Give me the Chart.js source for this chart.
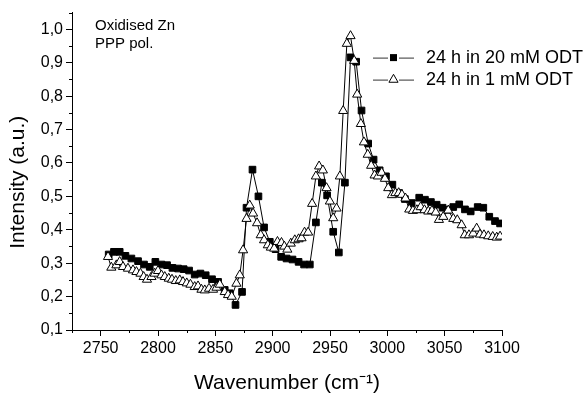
<!DOCTYPE html>
<html>
<head>
<meta charset="utf-8">
<script src="https://cdn.jsdelivr.net/npm/chart.js@4/dist/chart.umd.min.js"></script>
<style>
html,body{margin:0;padding:0;background:#fff;}
canvas{display:block;}
</style>
</head>
<body>
<canvas id="c" width="588" height="394"></canvas>
<script>
// ---- data ----
const wn20 = [2757.0,2761.6,2766.6,2771.6,2776.8,2782.6,2787.8,2792.8,2797.7,2803.0,
2807.9,2812.6,2817.5,2822.4,2827.1,2832.0,2837.0,2841.6,2847.1,2852.4,
2858.2,2862.6,2867.6,2873.3,2877.2,2882.4,2887.6,2892.5,2897.5,2902.5,
2907.4,2912.1,2917.3,2922.6,2927.4,2932.4,2937.7,2942.9,2947.5,2952.8,
2957.7,2963.0,2967.9,2972.8,2977.5,2983.3,2988.0,2993.3,2998.8,3004.4,
3010.1,3015.3,3021.2,3027.8,3032.8,3038.0,3043.0,3048.2,3053.1,3057.5,
3062.7,3067.7,3072.7,3078.8,3083.7,3088.9,3093.9,3098.3];
const int20 = [0.326,0.334,0.334,0.322,0.314,0.306,0.296,0.289,0.304,0.296,
0.294,0.286,0.284,0.282,0.278,0.266,0.269,0.264,0.252,0.244,
0.220,0.210,0.175,0.214,0.466,0.580,0.500,0.407,0.364,0.342,
0.319,0.314,0.311,0.304,0.296,0.296,0.422,0.541,0.503,0.394,
0.332,0.541,0.916,0.903,0.757,0.658,0.610,0.578,0.560,0.535,
0.510,0.492,0.480,0.496,0.490,0.483,0.475,0.466,0.460,0.468,
0.476,0.461,0.455,0.468,0.466,0.439,0.426,0.419];
const wn1 = [2756.4,2759.3,2763.7,2766.6,2769.5,2773.8,2778.2,2781.2,2784.7,2787.5,
2790.4,2794.3,2797.1,2800.0,2803.0,2805.9,2809.4,2812.2,2815.5,2819.0,
2821.8,2825.1,2828.3,2832.0,2834.9,2837.9,2840.8,2844.5,2848.0,2851.0,
2853.9,2858.2,2861.1,2864.3,2868.4,2871.3,2874.2,2877.2,2880.0,2882.9,
2886.4,2889.6,2892.5,2895.8,2898.4,2901.3,2904.2,2907.7,2910.2,2912.8,
2915.8,2919.3,2922.6,2925.2,2927.8,2930.9,2934.4,2937.7,2940.5,2943.8,
2947.0,2949.9,2952.8,2955.7,2958.6,2961.5,2964.7,2967.9,2971.1,2973.7,
2976.9,2979.6,2982.9,2985.9,2988.9,2991.8,2995.0,2997.9,3000.8,3004.0,
3007.0,3009.9,3012.7,3015.8,3019.1,3022.3,3025.8,3029.1,3032.4,3035.7,
3038.9,3042.2,3045.0,3048.8,3053.1,3057.5,3061.0,3064.8,3067.5,3071.2,
3074.9,3077.9,3080.8,3084.3,3088.0,3091.9,3095.4,3098.3];
const int1 = [0.319,0.287,0.294,0.304,0.289,0.284,0.279,0.274,0.269,0.259,
0.251,0.259,0.269,0.277,0.264,0.259,0.254,0.251,0.247,0.249,
0.244,0.240,0.236,0.229,0.231,0.221,0.219,0.224,0.221,0.227,
0.236,0.214,0.205,0.200,0.239,0.264,0.339,0.433,0.473,0.449,
0.420,0.384,0.369,0.354,0.347,0.344,0.364,0.361,0.350,0.341,
0.359,0.369,0.372,0.375,0.392,0.392,0.478,0.560,0.590,0.578,
0.525,0.485,0.435,0.464,0.560,0.756,0.957,0.980,0.906,0.805,
0.717,0.662,0.625,0.592,0.563,0.560,0.571,0.553,0.525,0.504,
0.510,0.510,0.505,0.494,0.461,0.457,0.459,0.468,0.459,0.455,
0.457,0.452,0.430,0.439,0.458,0.433,0.429,0.414,0.384,0.384,
0.389,0.404,0.386,0.384,0.381,0.379,0.377,0.380];
const seriesNames = ['24 h in 20 mM ODT', '24 h in 1 mM ODT'];
const xTicks = [2750,2800,2850,2900,2950,3000,3050,3100];
const xMinorTicks = [2725,2775,2825,2875,2925,2975,3025,3075];
const yTicks = [0.1,0.2,0.3,0.4,0.5,0.6,0.7,0.8,0.9,1.0];
const yMinorTicks = [0.15,0.25,0.35,0.45,0.55,0.65,0.75,0.85,0.95,1.05];
const noteLines = ['Oxidised Zn', 'PPP pol.'];
const xTitle = 'Wavenumber (cm\u207B\u00B9)';
const yTitle = 'Intensity (a.u.)';

const FONT = "'Liberation Sans', Arial, Helvetica, sans-serif";

function pts(xs, ys){ return xs.map((x,i)=>({x:x, y:ys[i]})); }

const extras = {
  id: 'extras',
  afterDraw(chart){
    const ctx = chart.ctx, a = chart.chartArea;
    const xs = chart.scales.x, ys = chart.scales.y;
    ctx.save();
    // minor ticks
    ctx.strokeStyle = '#000'; ctx.lineWidth = 1;
    ctx.beginPath();
    xMinorTicks.forEach(v=>{
      const p = Math.round(xs.getPixelForValue(v)) + 0.5;
      ctx.moveTo(p, a.bottom); ctx.lineTo(p, a.bottom + 3);
    });
    yMinorTicks.forEach(v=>{
      const p = Math.round(ys.getPixelForValue(v)) + 0.5;
      ctx.moveTo(a.left - 3, p); ctx.lineTo(a.left, p);
    });
    ctx.stroke();

    // y title
    ctx.fillStyle = '#000';
    ctx.font = '21px ' + FONT;
    ctx.textAlign = 'center'; ctx.textBaseline = 'middle';
    ctx.save();
    ctx.translate(18, (a.top + a.bottom)/2 + 11);
    ctx.rotate(-Math.PI/2);
    ctx.fillText(yTitle, 0, 0);
    ctx.restore();

    // note
    ctx.textAlign = 'left'; ctx.textBaseline = 'alphabetic';
    ctx.font = '15px ' + FONT;
    ctx.fillText(noteLines[0], a.left + 23, a.top + 17.5);
    ctx.fillText(noteLines[1], a.left + 23, a.top + 35.7);

    // legend
    const lx = a.right - 129;      // symbol left
    const rows = [a.top + 45, a.top + 67];
    ctx.font = '18px ' + FONT;
    rows.forEach((cy, i)=>{
      ctx.strokeStyle = '#333'; ctx.lineWidth = 1;
      ctx.beginPath();
      ctx.moveTo(lx, cy + 0.5); ctx.lineTo(lx + 15, cy + 0.5);
      ctx.moveTo(lx + 26, cy + 0.5); ctx.lineTo(lx + 41, cy + 0.5);
      ctx.stroke();
      const cx = lx + 20.5;
      if (i === 0){
        ctx.fillStyle = '#000';
        ctx.fillRect(cx - 3.5, cy - 3.5, 7, 7);
      } else {
        const r = 5.3;
        ctx.beginPath();
        ctx.moveTo(cx, cy - r);
        ctx.lineTo(cx + r*0.866, cy + r*0.5);
        ctx.lineTo(cx - r*0.866, cy + r*0.5);
        ctx.closePath();
        ctx.fillStyle = '#fff'; ctx.fill();
        ctx.strokeStyle = '#000'; ctx.stroke();
      }
      ctx.fillStyle = '#000';
      ctx.fillText(seriesNames[i], lx + 53, cy + 5.5);
    });
    ctx.restore();
  }
};

new Chart(document.getElementById('c'), {
  type: 'line',
  data: {
    datasets: [
      {
        label: seriesNames[0],
        data: pts(wn20, int20),
        order: 1,
        borderColor: '#000', borderWidth: 1, tension: 0, fill: false,
        pointStyle: 'rect', pointRadius: 4.7,
        pointBackgroundColor: '#000', pointBorderColor: '#000', pointBorderWidth: 1
      },
      {
        label: seriesNames[1],
        data: pts(wn1, int1),
        order: 0,
        borderColor: '#000', borderWidth: 1, tension: 0, fill: false,
        pointStyle: 'triangle', pointRadius: 5.3,
        pointBackgroundColor: '#fff', pointBorderColor: '#000', pointBorderWidth: 1
      }
    ]
  },
  options: {
    responsive: false,
    animation: false,
    devicePixelRatio: 1,
    layout: { padding: { left: 0, top: 12, right: 86, bottom: 0 } },
    plugins: { legend: { display: false }, tooltip: { enabled: false } },
    scales: {
      x: {
        type: 'linear', min: 2725, max: 3100,
        afterBuildTicks: s => { s.ticks = xTicks.map(v => ({ value: v })); },
        afterFit: s => { s.height = 64; },
        grid: { display: true, drawOnChartArea: false, drawTicks: true, tickLength: 6, color: '#000', tickColor: '#000', lineWidth: 1 },
        border: { display: true, color: '#000', width: 1 },
        ticks: { autoSkip: false, maxRotation: 0, padding: 3, color: '#000', font: { family: FONT, size: 16 }, callback: v => String(v) },
        title: { display: true, text: xTitle, color: '#000', font: { family: FONT, size: 21, lineHeight: 1 }, padding: { top: 0, bottom: 0 } }
      },
      y: {
        type: 'linear', min: 0.1, max: 1.05,
        afterBuildTicks: s => { s.ticks = yTicks.map(v => ({ value: v })); },
        afterFit: s => { s.width = 72; },
        grid: { display: true, drawOnChartArea: false, drawTicks: true, tickLength: 6, color: '#000', tickColor: '#000', lineWidth: 1 },
        border: { display: true, color: '#000', width: 1 },
        ticks: { autoSkip: false, padding: 3, color: '#000', font: { family: FONT, size: 16 }, callback: v => v.toFixed(1).replace('.', ',') },
        title: { display: false }
      }
    }
  },
  plugins: [extras]
});
</script>
</body>
</html>
